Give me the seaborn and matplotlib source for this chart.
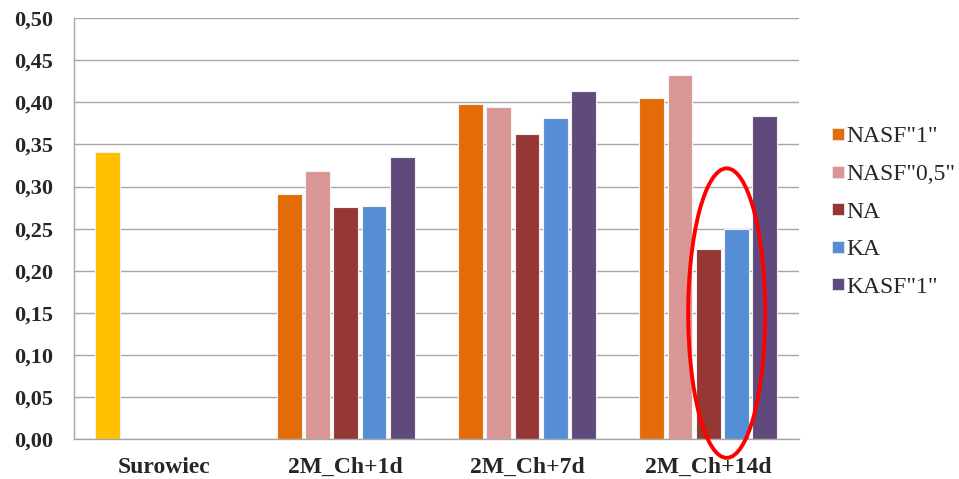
import numpy as np
import pandas as pd
import matplotlib.pyplot as plt
import seaborn as sns
from matplotlib.lines import Line2D
from matplotlib.patches import Ellipse
from matplotlib.ticker import FuncFormatter

# ---- data ----
categories = ['Surowiec', '2M_Ch+1d', '2M_Ch+7d', '2M_Ch+14d']
series = ['NASF"1"', 'NASF"0,5"', 'NA', 'KA', 'KASF"1"']
surowiec_value = 0.341
nasf1 = [0.291, 0.398, 0.405]
nasf05 = [0.318, 0.394, 0.433]
na = [0.276, 0.363, 0.226]
ka = [0.277, 0.382, 0.250]
kasf1 = [0.335, 0.414, 0.384]

colors = ['#E36C09', '#D99694', '#953735', '#558ED5', '#604A7B']
surowiec_color = '#FFC000'

# ---- long table ----
rows = [(categories[0], series[0], surowiec_value)]
for s, vals in zip(series, [nasf1, nasf05, na, ka, kasf1]):
    for c, v in zip(categories[1:], vals):
        rows.append((c, s, v))
df = pd.DataFrame(rows, columns=['kategoria', 'seria', 'wartosc'])

sns.set_style('white')
plt.rcParams['font.family'] = ['Liberation Serif', 'DejaVu Serif']

fig = plt.figure(figsize=(9.59, 4.79), dpi=100)
ax = fig.add_axes([0.077, 0.0835, 0.756, 0.8785])

sns.barplot(data=df, x='kategoria', y='wartosc', hue='seria',
            order=categories, hue_order=series, palette=colors, saturation=1,
            width=0.78, gap=0.12, edgecolor='#F2F2F2', linewidth=0.8,
            legend=False, ax=ax)

# the single raw-material bar is yellow in the original
for p in ax.patches:
    if p.get_x() + p.get_width() / 2 < 0.5:
        p.set_facecolor(surowiec_color)

ax.set_ylim(0, 0.5)
ax.set_xlim(-0.5, 3.5)
ax.set_yticks(np.arange(0, 0.501, 0.05))
ax.yaxis.set_major_formatter(FuncFormatter(lambda v, _: f'{v:.2f}'.replace('.', ',')))
ax.grid(axis='y', color='#A6A6A6', linewidth=1)
ax.set_axisbelow(True)
ax.set_xlabel('')
ax.set_ylabel('')

for side in ['top', 'right']:
    ax.spines[side].set_visible(False)
for side in ['left', 'bottom']:
    ax.spines[side].set_color('#A6A6A6')
    ax.spines[side].set_linewidth(1)

ax.tick_params(axis='y', length=7, color='#A6A6A6', width=1, pad=8, labelsize=16)
ax.tick_params(axis='x', which='major', length=0, pad=13, labelsize=17)
ax.set_xticks(np.arange(-0.5, 3.6, 1), minor=True)
ax.tick_params(axis='x', which='minor', length=5, color='#A6A6A6', width=1)
for lbl in ax.get_xticklabels() + ax.get_yticklabels():
    lbl.set_fontweight('bold')

# red ellipse marking NA and KA after 14 days
ax.add_patch(Ellipse((3.102, 0.1496), 0.425, 0.344, fill=False,
                     edgecolor='#FF0000', linewidth=2.8, clip_on=False, zorder=5))

handles = [Line2D([], [], marker='s', linestyle='', markersize=9,
                  markerfacecolor=c, markeredgecolor='#E8E8E8', markeredgewidth=0.6)
           for c in colors]
ax.legend(handles, series, loc='center left', bbox_to_anchor=(1.031, 0.54),
          frameon=False, fontsize=17, handlelength=0.6, handletextpad=0.05,
          labelspacing=0.68, borderaxespad=0)

fig.savefig('out.png', dpi=100)
